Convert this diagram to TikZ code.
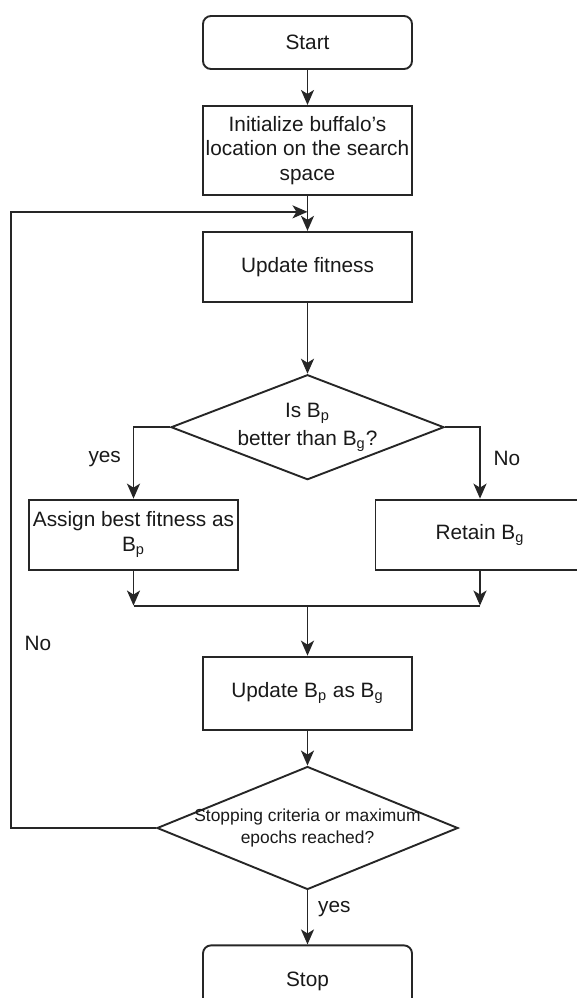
\documentclass[tikz,border=0pt]{standalone}
\usepackage{fontspec}
\setmainfont{Liberation Sans}
\usepackage{tikz}
\usetikzlibrary{arrows.meta}
\usetikzlibrary{positioning}
\usetikzlibrary{shapes.geometric}

\tikzset{
    box/.style={draw, rectangle, minimum width=104.5pt, align=center, inner xsep=1pt},
    term/.style={box, rounded corners=4pt},
    decision/.style={draw, diamond, inner sep=0pt},
    arr/.style={-{Stealth[length=7.5pt, width=6.5pt, inset=2pt]}},
}

\begin{document}
\begin{tikzpicture}[line width=0.95pt, draw=black!85, text=black!90,
    font=\fontsize{10.4}{12.3}\selectfont]
    \useasboundingbox (0,0) rectangle (288.5pt,-499pt);

    \node (start) [term, minimum height=26.5pt] at (153.75pt,-21.25pt) {Start};
    \node (init) [box, minimum height=44.5pt, below=17.5pt of start] {Initialize buffalo's\\location on the search\\space};
    \node (upd) [box, minimum height=35pt, below=17.5pt of init] {Update fitness};
    \node (dec1) [decision, minimum width=136.5pt, minimum height=52.5pt, below=35.5pt of upd,
        label={[align=center]center:{Is B\textsubscript{p}\\[2pt]better than B\textsubscript{g}?}}] {};

    \node (assign) [box, minimum height=35pt, below=9pt of dec1.south, xshift=-87pt] {Assign best fitness as\\B\textsubscript{p}};
    \node (retain) [box, minimum height=35pt, below=9pt of dec1.south, xshift=86.25pt] {Retain B\textsubscript{g}};

    \node (updbp) [box, minimum height=36.5pt, below=87.5pt of dec1] {Update B\textsubscript{p} as B\textsubscript{g}};
    \node (dec2) [decision, minimum width=150.5pt, minimum height=61.5pt, below=17.5pt of updbp,
        label={[align=center, font=\fontsize{8.7}{11}\selectfont]center:{Stopping criteria or maximum\\epochs reached?}}] {};
    \node (stop) [term, minimum height=36pt, below=27pt of dec2] {Stop};

    \coordinate[below=17.5pt of assign.south] (jl);
    \coordinate (jr) at (retain |- jl);
    \coordinate (join) at (dec1 |- jl);
    \coordinate[below=8pt of init.south] (back);
    \coordinate (rim) at (5.5pt,0);

    \draw[arr] (start) -- (init);
    \draw[arr] (init) -- (upd);
    \draw[arr] (upd) -- (dec1);
    \draw[arr] (dec1.west) -| node[pos=0.72, left=2.5pt] {yes} (assign);
    \draw[arr] (dec1.east) -| node[pos=0.72, right=3pt] {No} (retain);
    \draw[arr] (assign) -- (jl);
    \draw[arr] (retain) -- (jr);
    \draw (jl) -- (jr);
    \draw[arr] (join) -- (updbp);
    \draw[arr] (updbp) -- (dec2);
    \draw[arr] (dec2) -- node[pos=0.35, right=1.5pt] {yes} (stop);
    \draw[arr] (dec2.west) -- (dec2.west -| rim) -- node[pos=0.3, right=3pt] {No} (back -| rim) -- (back);
\end{tikzpicture}
\end{document}
